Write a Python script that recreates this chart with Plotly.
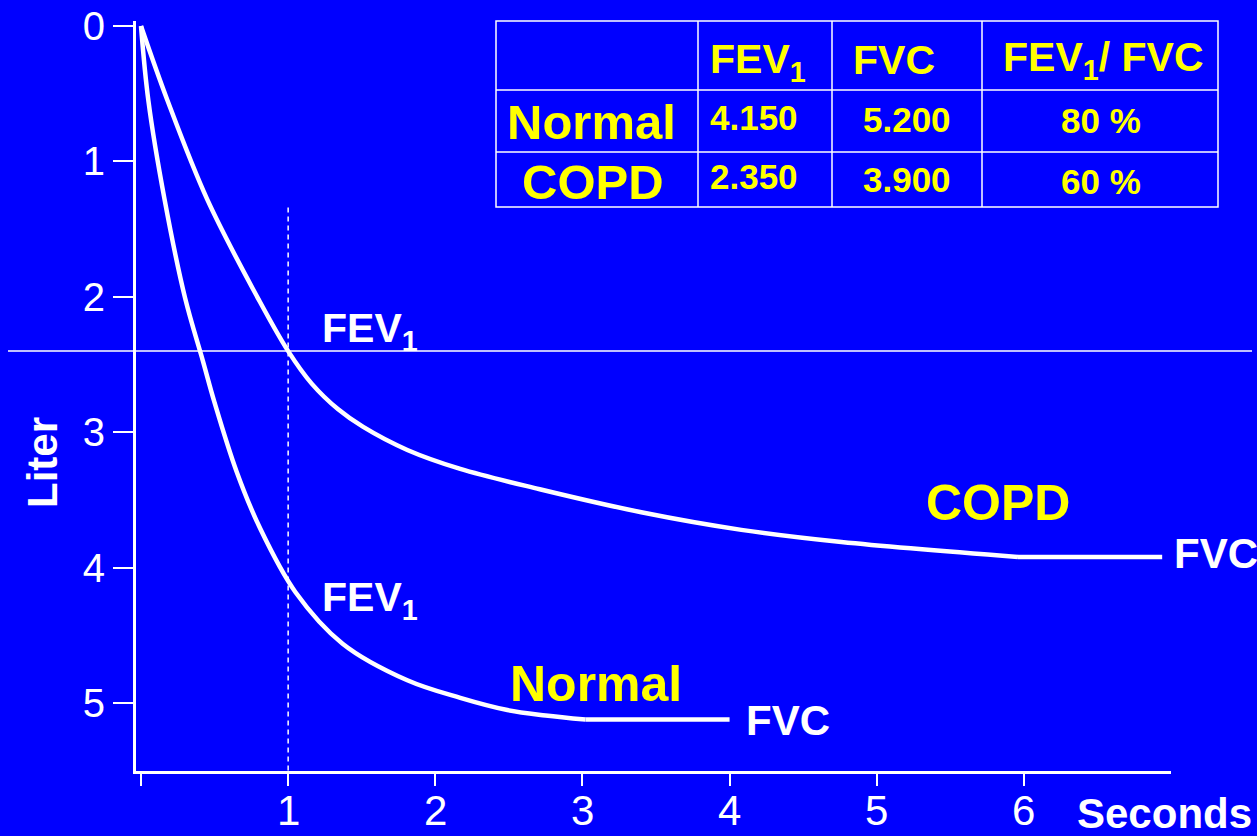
import plotly.graph_objects as go

# ---------------- data ----------------
normal_t = [0, 0.05, 0.16, 0.30, 0.42, 0.50, 0.65, 0.81, 1.05, 1.37, 1.81, 2.17, 2.49, 2.75, 3.02, 4.0]
normal_v = [0, 0.55, 1.28, 2.01, 2.47, 2.78, 3.29, 3.71, 4.18, 4.56, 4.83, 4.96, 5.05, 5.09, 5.12, 5.12]
copd_t = [0, 0.18, 0.45, 0.80, 1.0, 1.16, 1.34, 1.51, 1.81, 2.17, 2.71, 3.40, 4.08, 4.76, 5.96, 6.94]
copd_v = [0, 0.55, 1.28, 2.02, 2.40, 2.64, 2.83, 2.96, 3.13, 3.27, 3.42, 3.59, 3.72, 3.81, 3.92, 3.92]

x_ticks = [0, 1, 2, 3, 4, 5, 6]
x_ticktext = ["", "1", "2", "3", "4", "5", "6"]
y_ticks = [0, 1, 2, 3, 4, 5]

table_rows = ["Normal", "COPD"]
table_header = ["FEV<sub>1</sub>", "FVC", "FEV<sub>1</sub>/ FVC"]
table_fev1 = ["4.150", "2.350"]
table_fvc = ["5.200", "3.900"]
table_ratio = ["80 %", "60 %"]

fev1_time = 1.0
copd_fev1 = copd_v[copd_t.index(fev1_time)]
dash_top = 1.34

# ---------------- style ----------------
BLUE = "#0000FF"
WHITE = "#FFFFFF"
YELLOW = "#FFFF00"
FONT = "Liberation Sans, Arial, sans-serif"

W, H = 1257, 836
L, R, T, B = 136, 86, 21, 65
PW, PH = W - L - R, H - T - B


def px(x):
    return (x - L) / PW


def py(y):
    return (H - B - y) / PH


fig = go.Figure()

# curves (smooth part + flat FVC plateau)
for t, v in ((normal_t, normal_v), (copd_t, copd_v)):
    fig.add_trace(go.Scatter(x=t[:-1], y=v[:-1], mode="lines",
                             line=dict(color=WHITE, width=4.5, shape="spline", smoothing=1.0),
                             hoverinfo="skip", showlegend=False))
    fig.add_trace(go.Scatter(x=t[-2:], y=v[-2:], mode="lines",
                             line=dict(color=WHITE, width=4.5),
                             hoverinfo="skip", showlegend=False))

shapes = []
# horizontal FEV1 line for COPD
shapes.append(dict(type="line", xref="paper", yref="y", x0=px(8), x1=px(1252),
                   y0=copd_fev1, y1=copd_fev1, line=dict(color=WHITE, width=1.5)))
# dashed vertical line at 1 s
shapes.append(dict(type="line", xref="x", yref="y", x0=fev1_time, x1=fev1_time,
                   y0=dash_top, y1=5.5, line=dict(color=WHITE, width=1.5, dash="5px,4px")))

# table grid
tx0, tx1 = 496, 1218
ty0, ty1 = 21, 207
row_lines = [90, 152]
col_lines = [698, 832, 982]
shapes.append(dict(type="rect", xref="paper", yref="paper", x0=px(tx0), x1=px(tx1),
                   y0=py(ty1), y1=py(ty0), line=dict(color=WHITE, width=1.5)))
for yy in row_lines:
    shapes.append(dict(type="line", xref="paper", yref="paper", x0=px(tx0), x1=px(tx1),
                       y0=py(yy), y1=py(yy), line=dict(color=WHITE, width=1.5)))
for xx in col_lines:
    shapes.append(dict(type="line", xref="paper", yref="paper", x0=px(xx), x1=px(xx),
                       y0=py(ty1), y1=py(ty0), line=dict(color=WHITE, width=1.5)))

annotations = []


def ann(text, x, y, size, color, xanchor="center", angle=0, bold=True):
    annotations.append(dict(text=("<b>" + text + "</b>") if bold else text,
                            x=px(x), y=py(y), xref="paper", yref="paper",
                            showarrow=False, xanchor=xanchor, yanchor="middle",
                            textangle=angle,
                            font=dict(family=FONT, size=size, color=color)))


# table header
header_x = [758, 894, 1103]
header_y = [62, 60, 60]
for h, x, y in zip(table_header, header_x, header_y):
    ann(h, x, y, 41, YELLOW)

row_y = [120, 180]
row_label_x = [591, 593]
for i in range(2):
    ann(table_rows[i], row_label_x[i], row_y[i] + 2, 49, YELLOW)
    ann(table_fev1[i], 754, row_y[i] - 3, 35, YELLOW)
    ann(table_fvc[i], 907, row_y[i] - 1, 35, YELLOW)
    ann(table_ratio[i], 1101, row_y[i] + 1, 35, YELLOW)

# curve labels
ann("FEV<sub>1</sub>", 320, 331, 41, WHITE, xanchor="left")
ann("FEV<sub>1</sub>", 320, 600, 41, WHITE, xanchor="left")
ann("COPD", 998, 503, 50, YELLOW)
ann("Normal", 596, 684, 50, YELLOW)
ann("FVC", 1172, 553, 42, WHITE, xanchor="left")
ann("FVC", 744, 720, 42, WHITE, xanchor="left")

# axis titles
ann("Seconds", 1164, 814, 42, WHITE)
ann("Liter", 43, 463, 42, WHITE, angle=-90)

# x tick labels (placed closer to the axis than the default)
for tv, tt in zip(x_ticks, x_ticktext):
    if tt:
        annotations.append(dict(text=tt, x=tv, y=py(811), xref="x", yref="paper",
                                showarrow=False, xanchor="center", yanchor="middle",
                                font=dict(family=FONT, size=42, color=WHITE)))

fig.update_layout(
    width=W, height=H,
    margin=dict(l=L, r=R, t=T, b=B, pad=0),
    paper_bgcolor=BLUE, plot_bgcolor=BLUE,
    shapes=shapes, annotations=annotations,
    showlegend=False,
    xaxis=dict(range=[-0.034, 7.0], tickvals=x_ticks, showticklabels=False,
               automargin=False,
               showgrid=False, zeroline=False, showline=True, linecolor=WHITE, linewidth=3,
               ticks="outside", ticklen=12, tickwidth=1.5, tickcolor=WHITE),
    yaxis=dict(range=[5.5, -0.037], tickvals=y_ticks,
               automargin=False,
               showgrid=False, zeroline=False, showline=True, linecolor=WHITE, linewidth=3,
               ticks="outside", ticklen=20, tickwidth=1.5, tickcolor=WHITE,
               tickfont=dict(family=FONT, size=40, color=WHITE)),
)

fig.write_html("out.html", config={"displayModeBar": False},
               post_script="document.body.style.margin='0';document.body.style.overflow='hidden';")
